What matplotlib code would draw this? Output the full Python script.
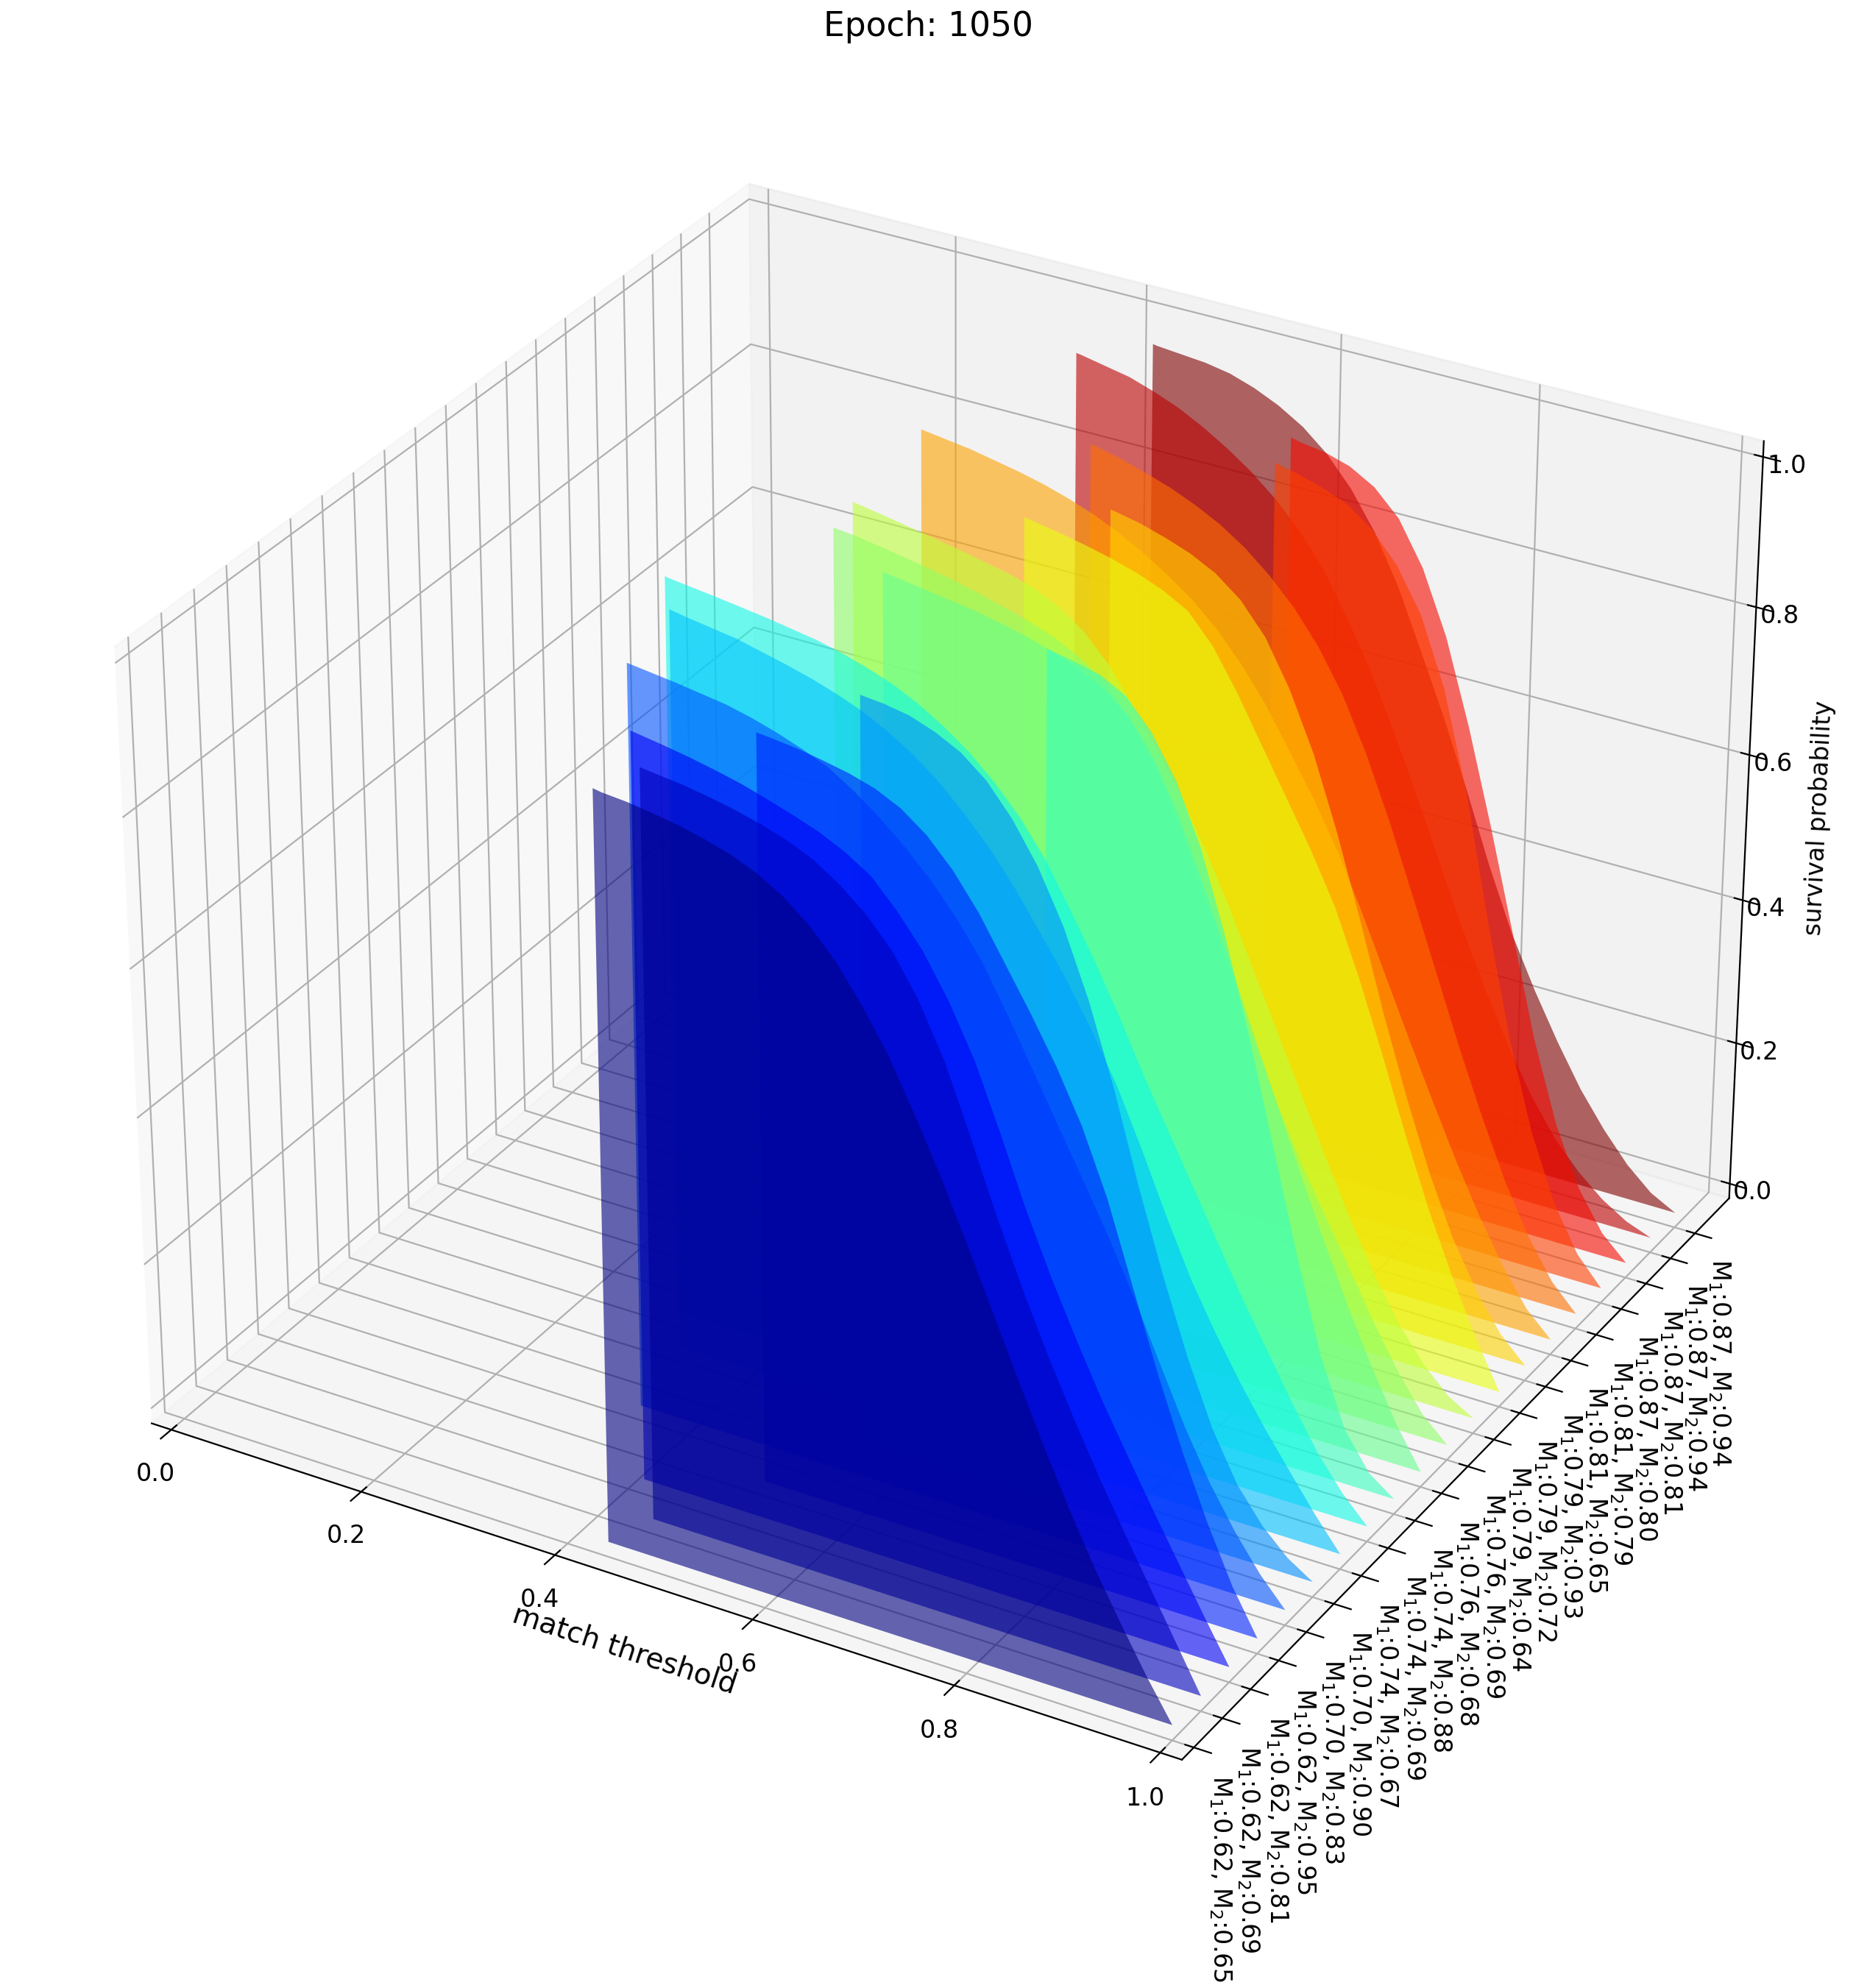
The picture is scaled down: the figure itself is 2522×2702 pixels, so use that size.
import numpy as np, matplotlib
matplotlib.use('Agg')
import matplotlib.pyplot as plt
from mpl_toolkits.mplot3d.art3d import PolyCollection

m1_values = ["0.62","0.62","0.62","0.62","0.70","0.70","0.74","0.74","0.74","0.76","0.76","0.79","0.79","0.79","0.81","0.81","0.87","0.87","0.87","0.87"]
m2_values = ["0.65","0.69","0.81","0.95","0.83","0.90","0.67","0.69","0.88","0.68","0.69","0.64","0.72","0.93","0.65","0.79","0.80","0.81","0.94","0.94"]
x_grid = [.30,.35,.40,.45,.475,.50,.525,.55,.575,.60,.625,.65,.675,.70,.725,.75,.775,.80,.825,.85,.875,.90,.925,.95,.975,1.0]
x_starts = [.442,.457,.417,.51,.352,.552,.333,.298,.648,.457,.378,.368,.512,.57,.35,.494,.652,.641,.395,.446]
z_start = .997
# survival values, aligned to the end of x_grid
s00 = [.995,.992,.987,.981,.973,.963,.949,.929,.902,.866,.82,.766,.70,.63,.553,.474,.394,.316,.243,.175,.113,.054,0]
s01 = [.994,.99,.984,.977,.968,.957,.942,.92,.892,.855,.802,.733,.645,.553,.468,.39,.318,.25,.186,.124,.062,0]
s02 = [.99,.984,.977,.969,.959,.948,.936,.92,.899,.864,.822,.767,.70,.615,.525,.445,.372,.303,.24,.178,.118,.058,0]
s03 = [.995,.991,.985,.978,.968,.952,.927,.892,.847,.792,.737,.678,.61,.525,.42,.315,.22,.135,.06,0]
s04 = [.989,.979,.971,.961,.949,.935,.914,.889,.86,.827,.787,.74,.68,.617,.553,.49,.425,.355,.28,.205,.14,.085,.038,0]
s05 = [.994,.988,.976,.959,.932,.892,.84,.772,.685,.58,.46,.35,.25,.165,.10,.055,.022,0]
s06 = [.993,.983,.967,.958,.947,.934,.917,.896,.87,.838,.802,.759,.71,.66,.603,.54,.465,.385,.31,.247,.19,.138,.09,.043,0]
s07 = [.996,.988,.979,.968,.96,.95,.938,.922,.902,.878,.848,.812,.767,.71,.65,.585,.515,.45,.385,.32,.255,.195,.135,.08,.035,0]
s08 = [.99,.982,.964,.927,.872,.792,.685,.56,.425,.29,.165,.075,.025,0]
s09 = [.994,.989,.984,.979,.972,.964,.954,.942,.924,.897,.852,.787,.705,.62,.532,.445,.358,.275,.195,.122,.055,0]
s10 = [.994,.983,.977,.97,.962,.953,.943,.931,.914,.89,.852,.797,.727,.645,.56,.475,.395,.325,.262,.20,.137,.08,.032,0]
s11 = [.99,.978,.972,.965,.958,.948,.932,.909,.874,.827,.777,.722,.66,.59,.515,.44,.365,.29,.218,.153,.097,.053,.02,0]
s12 = [.994,.988,.981,.973,.963,.95,.932,.895,.842,.782,.722,.662,.595,.51,.415,.315,.222,.14,.065,0]
s13 = [.996,.989,.979,.967,.95,.924,.884,.824,.747,.65,.54,.425,.32,.225,.145,.082,.033,0]
s14 = [.988,.975,.967,.957,.945,.93,.912,.891,.867,.837,.799,.754,.70,.645,.583,.512,.435,.358,.283,.21,.143,.083,.033,0]
s15 = [.996,.988,.978,.967,.953,.936,.914,.886,.852,.809,.754,.683,.60,.508,.415,.322,.235,.155,.088,.035,0]
s16 = [.99,.98,.967,.942,.904,.847,.757,.625,.46,.31,.19,.10,.038,0]
s17 = [.994,.989,.979,.96,.927,.87,.787,.675,.548,.412,.275,.165,.085,.032,0]
s18 = [.996,.983,.972,.959,.942,.922,.899,.871,.837,.794,.737,.674,.60,.52,.437,.355,.28,.21,.15,.10,.063,.034,.013,0]
s19 = [.996,.993,.99,.984,.973,.958,.938,.91,.872,.822,.757,.677,.595,.505,.41,.325,.255,.192,.135,.088,.048,.018,0]
curves = [s00,s01,s02,s03,s04,s05,s06,s07,s08,s09,s10,s11,s12,s13,s14,s15,s16,s17,s18,s19]
ticks = [r"M$_1$:%s, M$_2$:%s" % (a, b) for a, b in zip(m1_values, m2_values)]

side = 2492
fig = plt.figure(figsize=(12.61, 13.51), dpi=200)
ax = fig.add_axes([(1264-side/2)/2522, (2702-1303-side/2)/2702, side/2522, side/2702], projection='3d')
ax.view_init(elev=30, azim=-60)
ax.computed_zorder = False
for i, vals in enumerate(curves):
    xs = x_grid[-len(vals):]
    verts = [(x_starts[i], 0), (x_starts[i], z_start)] + list(zip(xs, vals))
    ax.add_collection3d(PolyCollection([verts], facecolors=[plt.cm.jet(i/19)], alpha=0.6, zorder=20-i), zs=i, zdir='y')
m = 1/48
ax.set_xlim(0, 1, view_margin=m); ax.set_ylim(0, 20, view_margin=m); ax.set_zlim(0, 1, view_margin=m)
ax.set_yticks(range(20))
ax.set_yticklabels(ticks, rotation=-90, ha='center', va='top', fontsize=12)
ax.tick_params(labelsize=12)
ax.tick_params(axis='z', pad=-1)
ax.set_xlabel('match threshold', fontsize=14, labelpad=1)
ax.set_zlabel('survival probability', fontsize=12, labelpad=1)
fig.suptitle('Epoch: 1050', fontsize=16.4, x=0.5003, y=1-21/1568, va='center')
fig.savefig('out.png')
